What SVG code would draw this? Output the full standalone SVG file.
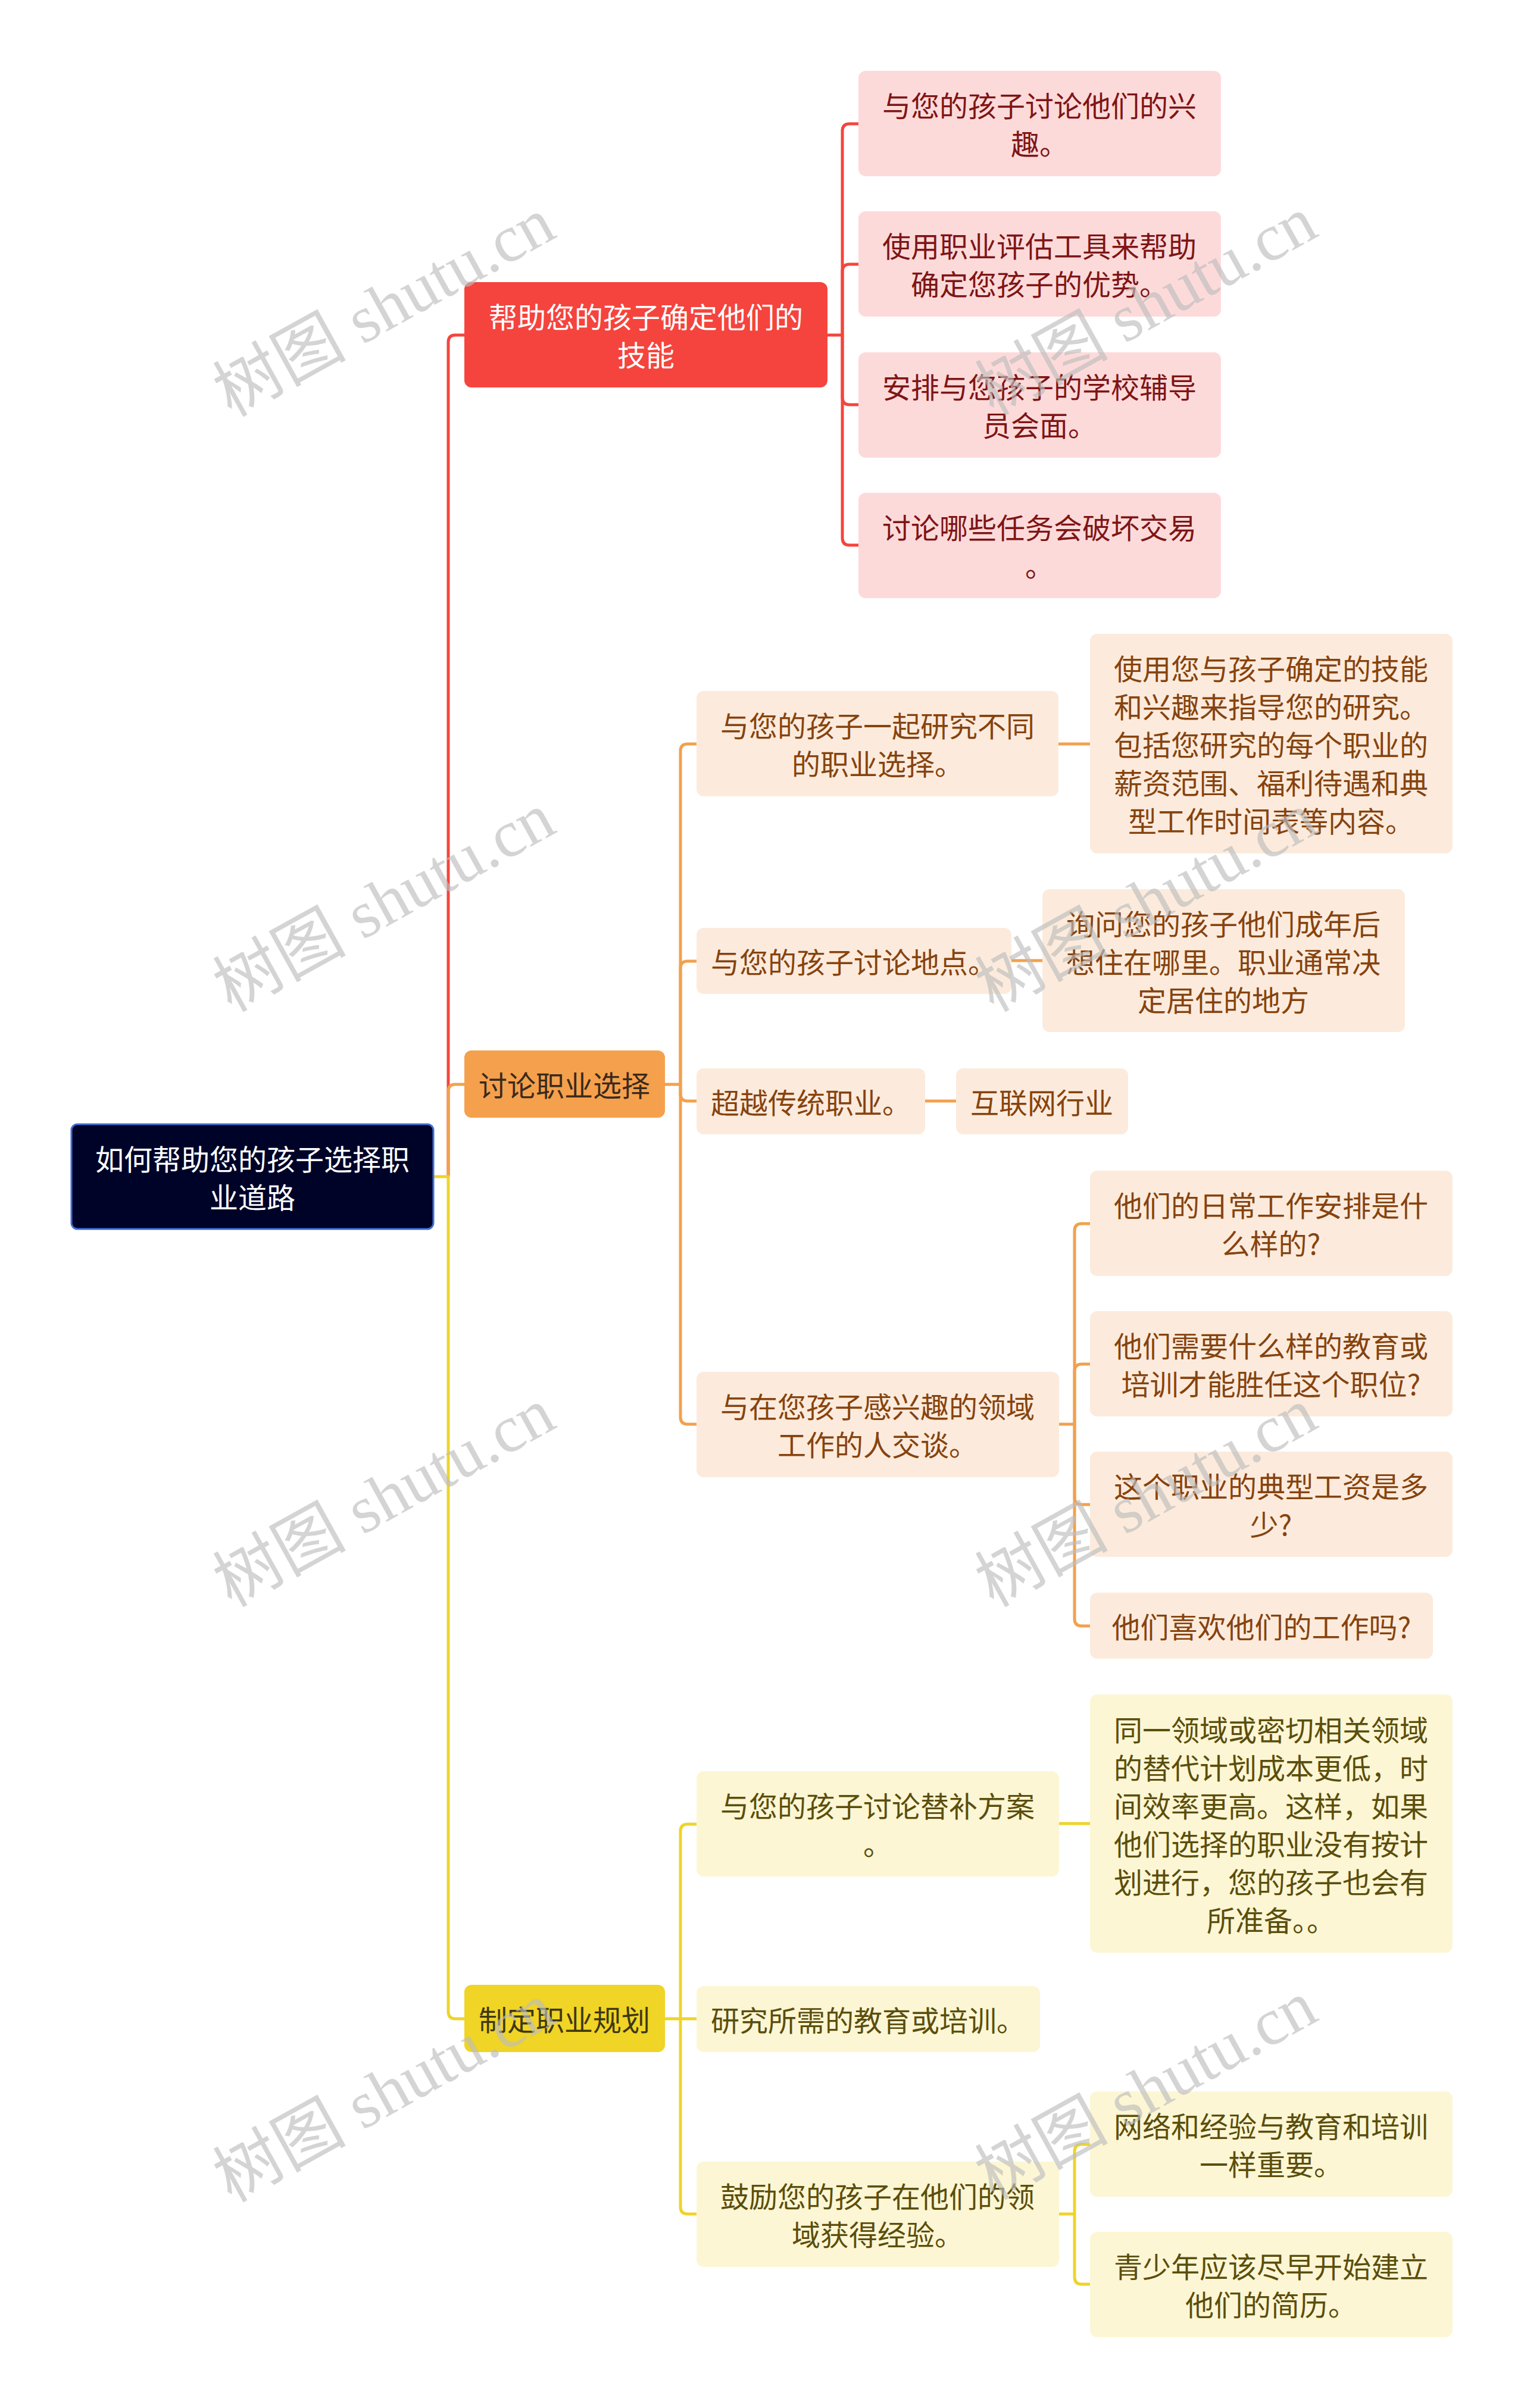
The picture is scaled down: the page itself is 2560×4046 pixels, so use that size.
<svg xmlns="http://www.w3.org/2000/svg" width="2560" height="4046" viewBox="0 0 2560 4046">
<style>
text{font-family:"Noto Sans CJK SC","Noto Sans",sans-serif;font-size:48px;text-anchor:middle;dominant-baseline:central}
.c{fill:none;stroke-width:5;stroke-linecap:butt;stroke-linejoin:round}
.cr{stroke:#F5443D}.co{stroke:#F2A14E}.cy{stroke:#EED42A}
.root rect{fill:#000328;stroke:#3D6FD6;stroke-width:3}
.root text{fill:#FFFFFF}
.r1 rect{fill:#F5443D}.r1 text{fill:#FFFFFF}
.r2 rect{fill:#FDDADA}.r2 text{fill:#7E1515}
.o1 rect{fill:#F5A04C}.o1 text{fill:#3A2A1C}
.o2 rect{fill:#FCEBDC}.o2 text{fill:#86430F}
.y1 rect{fill:#F0D426}.y1 text{fill:#3E3810}
.y2 rect{fill:#FCF6D4}.y2 text{fill:#5B4E0C}
.wm{font-family:"Liberation Serif","Noto Sans CJK SC",serif;font-size:112px;fill:#BDBDBD;fill-opacity:0.65}
</style>
<rect width="2560" height="4046" fill="#FFFFFF"/>
<g id="connectors">
<path class="c cr" d="M753 1977 V575 Q753 563 765 563 H782"/>
<path class="c co" d="M753 1977 V1834 Q753 1822 765 1822 H782"/>
<path class="c cy" d="M728 1977 H753 V3380 Q753 3392 765 3392 H782"/>
<path class="c cr" d="M1390 563 H1415"/>
<path class="c cr" d="M1415 563 V220 Q1415 208 1427 208 H1444"/>
<path class="c cr" d="M1415 563 V456 Q1415 444 1427 444 H1444"/>
<path class="c cr" d="M1415 563 V668 Q1415 680 1427 680 H1444"/>
<path class="c cr" d="M1415 563 V904 Q1415 916 1427 916 H1444"/>
<path class="c co" d="M1117 1822 H1143"/>
<path class="c co" d="M1143 1822 V1262 Q1143 1250 1155 1250 H1172"/>
<path class="c co" d="M1143 1822 V1627 Q1143 1615 1155 1615 H1172"/>
<path class="c co" d="M1143 1822 V1838 Q1143 1850 1155 1850 H1172"/>
<path class="c co" d="M1143 1822 V2381 Q1143 2393 1155 2393 H1172"/>
<path class="c co" d="M1776 1250 H1833"/>
<path class="c co" d="M1697 1614 H1753"/>
<path class="c co" d="M1552 1850 H1608"/>
<path class="c co" d="M1777 2393 H1805"/>
<path class="c co" d="M1805 2393 V2068 Q1805 2056 1817 2056 H1833"/>
<path class="c co" d="M1805 2393 V2304 Q1805 2292 1817 2292 H1833"/>
<path class="c co" d="M1805 2393 V2516 Q1805 2528 1817 2528 H1833"/>
<path class="c co" d="M1805 2393 V2720 Q1805 2732 1817 2732 H1833"/>
<path class="c cy" d="M1117 3392 H1172"/>
<path class="c cy" d="M1143 3392 V3077 Q1143 3065 1155 3065 H1172"/>
<path class="c cy" d="M1143 3392 V3708 Q1143 3720 1155 3720 H1172"/>
<path class="c cy" d="M1777 3064 H1833"/>
<path class="c cy" d="M1777 3720 H1805"/>
<path class="c cy" d="M1805 3720 V3615 Q1805 3603 1817 3603 H1833"/>
<path class="c cy" d="M1805 3720 V3826 Q1805 3838 1817 3838 H1833"/>
</g>
<g id="root" class="root"><rect x="120" y="1889" width="608" height="176" rx="10"/><text x="424" y="1945">如何帮助您的孩子选择职</text><text x="424" y="2009">业道路</text></g>
<g id="n-skills" class="r1"><rect x="780" y="474" width="610" height="177" rx="12"/><text x="1085" y="530">帮助您的孩子确定他们的</text><text x="1085" y="594">技能</text></g>
<g id="n-skills-1" class="r2"><rect x="1442" y="119" width="609" height="177" rx="12"/><text x="1746" y="175">与您的孩子讨论他们的兴</text><text x="1746" y="239">趣。</text></g>
<g id="n-skills-2" class="r2"><rect x="1442" y="355" width="609" height="177" rx="12"/><text x="1746" y="411">使用职业评估工具来帮助</text><text x="1746" y="475">确定您孩子的优势。</text></g>
<g id="n-skills-3" class="r2"><rect x="1442" y="592" width="609" height="177" rx="12"/><text x="1746" y="648">安排与您孩子的学校辅导</text><text x="1746" y="712">员会面。</text></g>
<g id="n-skills-4" class="r2"><rect x="1442" y="828" width="609" height="177" rx="12"/><text x="1746" y="884">讨论哪些任务会破坏交易</text><text x="1746" y="948">。</text></g>
<g id="n-discuss" class="o1"><rect x="780" y="1765" width="337" height="113" rx="12"/><text x="948" y="1821">讨论职业选择</text></g>
<g id="n-research" class="o2"><rect x="1170" y="1161" width="608" height="177" rx="12"/><text x="1474" y="1217">与您的孩子一起研究不同</text><text x="1474" y="1281">的职业选择。</text></g>
<g id="n-research-1" class="o2"><rect x="1831" y="1065" width="609" height="369" rx="12"/><text x="2135" y="1121">使用您与孩子确定的技能</text><text x="2135" y="1185">和兴趣来指导您的研究。</text><text x="2135" y="1249">包括您研究的每个职业的</text><text x="2135" y="1313">薪资范围、福利待遇和典</text><text x="2135" y="1377">型工作时间表等内容。</text></g>
<g id="n-location" class="o2"><rect x="1170" y="1559" width="529" height="111" rx="12"/><text x="1434" y="1614">与您的孩子讨论地点。</text></g>
<g id="n-location-1" class="o2"><rect x="1751" y="1494" width="609" height="240" rx="12"/><text x="2055" y="1550">询问您的孩子他们成年后</text><text x="2055" y="1614">想住在哪里。职业通常决</text><text x="2055" y="1678">定居住的地方</text></g>
<g id="n-beyond" class="o2"><rect x="1170" y="1795" width="384" height="111" rx="12"/><text x="1362" y="1850">超越传统职业。</text></g>
<g id="n-beyond-1" class="o2"><rect x="1606" y="1795" width="289" height="111" rx="12"/><text x="1750" y="1850">互联网行业</text></g>
<g id="n-talk" class="o2"><rect x="1170" y="2305" width="609" height="177" rx="12"/><text x="1474" y="2361">与在您孩子感兴趣的领域</text><text x="1474" y="2425">工作的人交谈。</text></g>
<g id="n-talk-1" class="o2"><rect x="1831" y="1967" width="609" height="177" rx="12"/><text x="2135" y="2023">他们的日常工作安排是什</text><text x="2135" y="2087">么样的?</text></g>
<g id="n-talk-2" class="o2"><rect x="1831" y="2203" width="609" height="177" rx="12"/><text x="2135" y="2259">他们需要什么样的教育或</text><text x="2135" y="2323">培训才能胜任这个职位?</text></g>
<g id="n-talk-3" class="o2"><rect x="1831" y="2439" width="609" height="177" rx="12"/><text x="2135" y="2495">这个职业的典型工资是多</text><text x="2135" y="2559">少?</text></g>
<g id="n-talk-4" class="o2"><rect x="1831" y="2676" width="576" height="111" rx="12"/><text x="2119" y="2731">他们喜欢他们的工作吗?</text></g>
<g id="n-plan" class="y1"><rect x="780" y="3335" width="337" height="113" rx="12"/><text x="948" y="3391">制定职业规划</text></g>
<g id="n-alt" class="y2"><rect x="1170" y="2976" width="609" height="177" rx="12"/><text x="1474" y="3032">与您的孩子讨论替补方案</text><text x="1474" y="3096">。</text></g>
<g id="n-alt-1" class="y2"><rect x="1831" y="2847" width="609" height="434" rx="12"/><text x="2135" y="2904">同一领域或密切相关领域</text><text x="2135" y="2968">的替代计划成本更低，时</text><text x="2135" y="3032">间效率更高。这样，如果</text><text x="2135" y="3096">他们选择的职业没有按计</text><text x="2135" y="3160">划进行，您的孩子也会有</text><text x="2135" y="3224">所准备。。</text></g>
<g id="n-edu" class="y2"><rect x="1170" y="3337" width="577" height="111" rx="12"/><text x="1458" y="3392">研究所需的教育或培训。</text></g>
<g id="n-exp" class="y2"><rect x="1170" y="3632" width="609" height="177" rx="12"/><text x="1474" y="3688">鼓励您的孩子在他们的领</text><text x="1474" y="3752">域获得经验。</text></g>
<g id="n-exp-1" class="y2"><rect x="1831" y="3514" width="609" height="177" rx="12"/><text x="2135" y="3570">网络和经验与教育和培训</text><text x="2135" y="3634">一样重要。</text></g>
<g id="n-exp-2" class="y2"><rect x="1831" y="3750" width="609" height="177" rx="12"/><text x="2135" y="3806">青少年应该尽早开始建立</text><text x="2135" y="3870">他们的简历。</text></g>
<g id="watermarks">
<text class="wm" x="645" y="516" transform="rotate(-29 645 516)">树图 shutu.cn</text>
<text class="wm" x="1925" y="514" transform="rotate(-29 1925 514)">树图 shutu.cn</text>
<text class="wm" x="645" y="1516" transform="rotate(-29 645 1516)">树图 shutu.cn</text>
<text class="wm" x="1925" y="1516" transform="rotate(-29 1925 1516)">树图 shutu.cn</text>
<text class="wm" x="645" y="2516" transform="rotate(-29 645 2516)">树图 shutu.cn</text>
<text class="wm" x="1925" y="2516" transform="rotate(-29 1925 2516)">树图 shutu.cn</text>
<text class="wm" x="645" y="3516" transform="rotate(-29 645 3516)">树图 shutu.cn</text>
<text class="wm" x="1925" y="3512" transform="rotate(-29 1925 3512)">树图 shutu.cn</text>
</g>
</svg>
